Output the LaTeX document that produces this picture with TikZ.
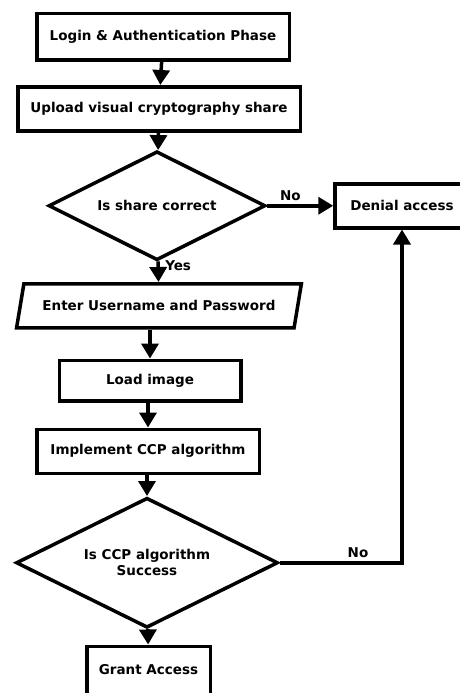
\documentclass[tikz,border=0pt]{standalone}
\usepackage{fontspec}
\setmainfont{DejaVu Sans}
\usetikzlibrary{positioning,shapes.geometric,arrows.meta}
\tikzset{>={Triangle[width=17pt,length=15pt]}}

\begin{document}
\begin{tikzpicture}[node distance=22pt,
                    font=\bfseries\fontsize{13.5}{16}\selectfont,
                    stap/.style={draw,line width=3.5pt,inner sep=2,minimum height=44pt},
                    keuze/.style={draw,diamond,aspect=2,line width=3.5pt,inner sep=0,align=center},
                    invoer/.style={draw,trapezium,trapezium left angle=66,trapezium right angle=114,line width=3.5pt,inner sep=2,minimum height=44pt,trapezium stretches=true},
                    pijl/.style={->,line width=3.5pt},
       ]
       \useasboundingbox (0,0) rectangle (459pt,-693pt);
       \node[stap,minimum width=252.5pt,minimum height=46.5pt] (login) at (163pt,-37pt) {Login \& Authentication Phase};
        \node[stap,minimum width=282.5pt,below=23pt of login,xshift=-4pt] (upload) {Upload visual cryptography share};
        \node[keuze,minimum width=217pt,minimum height=109pt,below=17pt of upload,xshift=-2pt] (check share) {Is share correct};
        \node[stap,minimum width=134pt,right=66pt of check share] (denial) {Denial access};
        \node[invoer,minimum width=285pt,below=20pt of check share,xshift=2pt] (gebruiker) {Enter Username and Password};
        \node[stap,minimum width=181.5pt,minimum height=40.5pt,below=29pt of gebruiker,xshift=-9pt] (laden) {Load image};
        \node[stap,minimum width=222.5pt,below=25pt of laden,xshift=-2pt] (ccp) {Implement CCP algorithm};
        \node[keuze,minimum width=262pt,minimum height=130pt,below=21pt of ccp,xshift=-1pt] (check ccp) {Is CCP algorithm\\Success};
        \node[stap,minimum width=123.5pt,minimum height=56pt,below=15pt of check ccp,xshift=1.5pt] (grant) {\raisebox{10pt}{Grant Access}};
        \draw[pijl] (login) -- (upload);
        \draw[pijl] (upload) -- (check share);
        \draw[pijl] (check share) -- (denial) node[above,pos=0.35] {No};
        \draw[pijl] (check share) -- (gebruiker) node[right,pos=0.2,xshift=2pt] {Yes};
        \draw[pijl] (gebruiker.south -| laden) -- (laden);
        \draw[pijl] (laden.south -| ccp) -- (ccp);
        \draw[pijl] (ccp.south -| check ccp) -- (check ccp);
        \draw[pijl] (check ccp) -- (grant);
        \draw[pijl] (check ccp.east) -| (denial.south) node[above,pos=0.32] {No};
    \end{tikzpicture}
\end{document}
